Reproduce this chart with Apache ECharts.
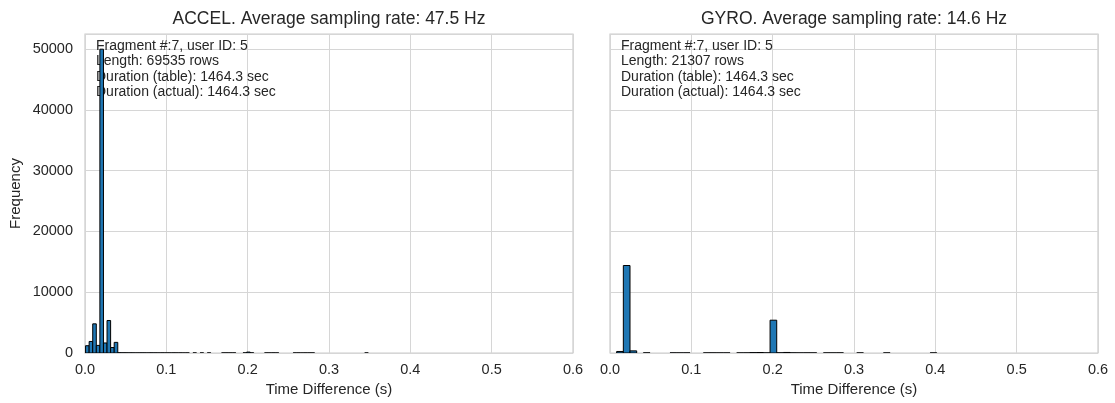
<!DOCTYPE html>
<html>
<head>
<meta charset="utf-8">
<script src="https://cdn.jsdelivr.net/npm/echarts@6/dist/echarts.min.js"></script>
<style>
  html, body { margin: 0; padding: 0; background: #fff; }
  #chart { width: 1115px; height: 403px; }
</style>
</head>
<body>
<div id="chart"></div>
<script>
// histogram bins: start + width, counts
const accelBinStart = 0.0007;
const accelBinWidth = 0.0044;
const accelCounts = [
  1200, 1900, 4800, 1250, 50000, 1650, 5350, 900, 1750,
  40, 30, 25, 20, 15, 10, 20, 15, 10, 20, 15,
  10, 15, 10, 10, 15, 10, 10, 5, 10,
  0, 10, 0, 10, 0, 10, 0, 0, 0,
  10, 15, 10, 10, 0, 0,
  20, 150, 20, 0, 0, 0,
  10, 10, 15, 10, 0, 0, 0, 0,
  10, 10, 5, 10, 10, 10,
  0, 0, 0, 0, 0, 0, 0, 0, 0, 0, 0, 0, 0, 0,
  10, 0
];

const gyroBinStart = 0.0;
const gyroBinWidth = 0.0082;
const gyroCounts = [
  0, 250, 14400, 350, 0, 20, 0, 0, 0, 15,
  10, 15, 0, 0, 10, 15, 10, 10, 0, 10,
  15, 60, 80, 20, 5400, 30, 90, 20, 10, 15,
  10, 0, 10, 10, 15, 0, 0, 10, 0, 0,
  0, 10, 0, 0, 0, 0, 0, 0, 10, 0
];

const xTicks = [0, 0.1, 0.2, 0.3, 0.4, 0.5, 0.6];
const titles = ['ACCEL. Average sampling rate: 47.5 Hz', 'GYRO. Average sampling rate: 14.6 Hz'];
const infoLines = [
  ['Fragment #:7, user ID: 5', 'Length: 69535 rows', 'Duration (table): 1464.3 sec', 'Duration (actual): 1464.3 sec'],
  ['Fragment #:7, user ID: 5', 'Length: 21307 rows', 'Duration (table): 1464.3 sec', 'Duration (actual): 1464.3 sec']
];

// turn counts into [left edge, right edge, count]
function toBins(start, width, counts) {
  return counts.map((c, i) => [start + i * width, start + (i + 1) * width, c]);
}

// draws one histogram bar via the axes
function renderHist(params, api) {
  var h = api.value(2);
  if (!h) return null;
  var p0 = api.coord([api.value(0), h]);
  var p1 = api.coord([api.value(1), 0]);
  return {
    type: 'rect',
    shape: { x: p0[0], y: p0[1], width: p1[0] - p0[0], height: p1[1] - p0[1] },
    style: { fill: '#1f77b4', stroke: '#000', lineWidth: 1 }
  };
}

const FONT = 'Liberation Sans, Arial, sans-serif';
const TXT = '#262626';
const GRIDLINE = '#d6d6d6';

const grids = [
  { left: 85, top: 34, width: 488, height: 319 },
  { left: 610, top: 34, width: 488, height: 319 }
];

function xAxisFor(i) {
  return {
    type: 'value', gridIndex: i, min: 0, max: 0.6, interval: 0.1,
    name: 'Time Difference (s)', nameLocation: 'middle', nameGap: 29,
    nameTextStyle: { fontSize: 15, color: TXT, fontFamily: FONT },
    axisLine: { show: false }, axisTick: { show: false },
    axisLabel: { fontSize: 14.5, color: TXT, fontFamily: FONT, margin: 9,
      formatter: v => xTicks.some(t => Math.abs(t - v) < 1e-9) ? v.toFixed(1) : '' },
    splitLine: { show: true, lineStyle: { color: GRIDLINE, width: 1 } }
  };
}

function yAxisFor(i) {
  return {
    type: 'value', gridIndex: i, min: 0, max: 52500, interval: 10000,
    name: i === 0 ? 'Frequency' : '', nameLocation: 'middle', nameGap: 62, nameRotate: 90,
    nameTextStyle: { fontSize: 15, color: TXT, fontFamily: FONT },
    axisLine: { show: false }, axisTick: { show: false },
    axisLabel: { show: i === 0, fontSize: 14.5, color: TXT, fontFamily: FONT, margin: 12,
      formatter: v => v % 10000 === 0 ? String(v) : '' },
    splitLine: { show: true, lineStyle: { color: GRIDLINE, width: 1 } }
  };
}

const graphics = [];
titles.forEach((t, i) => {
  graphics.push({
    type: 'text', x: grids[i].left + grids[i].width / 2, y: 10,
    style: { text: t, fontSize: 17.5, fill: TXT, fontFamily: FONT, textAlign: 'center', textVerticalAlign: 'top' }
  });
  graphics.push({
    type: 'text', x: grids[i].left + 11, y: 38, z: 1,
    style: { text: infoLines[i].join('\n'), fontSize: 14, lineHeight: 15.5, fill: TXT, fontFamily: FONT, textVerticalAlign: 'top' }
  });
});

const option = {
  backgroundColor: '#fff',
  animation: false,
  grid: grids.map(g => Object.assign({ show: true, borderColor: '#cccccc', borderWidth: 1.2, backgroundColor: 'transparent' }, g)),
  xAxis: [xAxisFor(0), xAxisFor(1)],
  yAxis: [yAxisFor(0), yAxisFor(1)],
  graphic: graphics,
  series: [
    {
      type: 'custom', xAxisIndex: 0, yAxisIndex: 0, renderItem: renderHist, z: 3,
      encode: { x: [0, 1], y: 2 }, clip: true,
      data: toBins(accelBinStart, accelBinWidth, accelCounts)
    },
    {
      type: 'custom', xAxisIndex: 1, yAxisIndex: 1, renderItem: renderHist, z: 3,
      encode: { x: [0, 1], y: 2 }, clip: true,
      data: toBins(gyroBinStart, gyroBinWidth, gyroCounts)
    }
  ]
};

var chart = echarts.init(document.getElementById('chart'));
chart.setOption(option);
</script>
</body>
</html>
